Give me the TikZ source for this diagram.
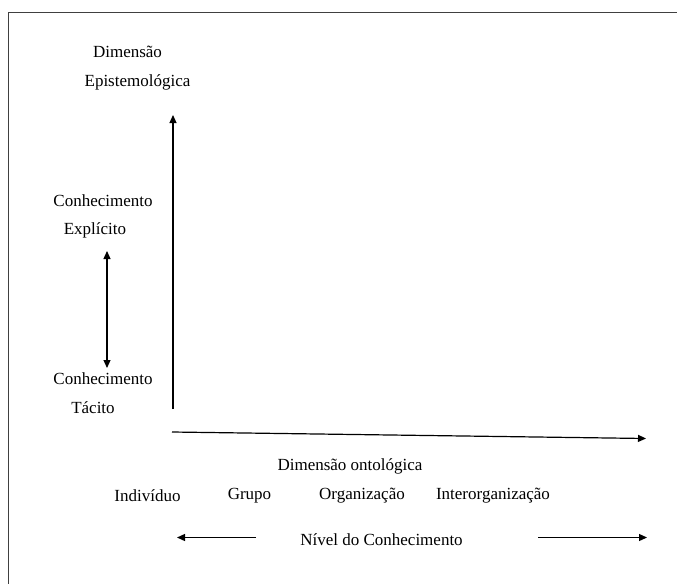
\documentclass[tikz,border=0pt]{standalone}
\usepackage{fontspec}
\setmainfont{Liberation Serif}
\usetikzlibrary{arrows.meta}
\begin{document}
\begin{tikzpicture}[x=1pt,y=-1pt,
  lbl/.style={inner sep=0pt,font=\fontsize{17}{20}\selectfont},
  axis/.style={line width=1.2pt,-{Triangle[length=8pt,width=7pt]}},
  both/.style={line width=1.1pt,{Triangle[length=8pt,width=7pt]}-{Triangle[length=8pt,width=7pt]}}]
  \useasboundingbox (0,0) rectangle (677,584);
  % frame: top and left edges
  \draw[line width=1.6pt,black!75] (677,12.5) -- (8.5,12.5) -- (8.5,584);

  % vertical labels
  \node[lbl] (dim) at (127.5,52) {Dimensão};
  \node[lbl] (epi) at (137.5,82) {Epistemológica};
  \node[lbl] (cex) at (103,201) {Conhecimento};
  \node[lbl] (exp) at (95,230) {Explícito};
  \node[lbl] (cta) at (103,379) {Conhecimento};
  \node[lbl] (tac) at (93,408) {Tácito};

  % axes
  \coordinate (ybot) at (173,409);
  \coordinate (ytop) at (173,115);
  \draw[axis] (ybot) -- (ytop);
  \coordinate (xl) at (172,432);
  \coordinate (xr) at (646,438.5);
  \draw[axis] (xl) -- (xr);

  % tacit/explicit double arrow
  \coordinate (de) at (107,251);
  \coordinate (dt) at (107,368);
  \draw[both] (de) -- (dt);

  % ontological labels
  \node[lbl] (ont) at (350,466) {Dimensão ontológica};
  \node[lbl] (ind) at (147.5,496) {Indivíduo};
  \node[lbl] (gru) at (249.5,496) {Grupo};
  \node[lbl] (org) at (362,496) {Organização};
  \node[lbl] (int) at (493,496) {Interorganização};
  \node[lbl] (niv) at (381.5,540) {Nível do Conhecimento};

  \coordinate (la) at (256,537.5);
  \coordinate (lb) at (177,537.5);
  \coordinate (ra) at (538,537.5);
  \coordinate (rb) at (647,537.5);
  \draw[axis] (la) -- (lb);
  \draw[axis] (ra) -- (rb);
\end{tikzpicture}
\end{document}
